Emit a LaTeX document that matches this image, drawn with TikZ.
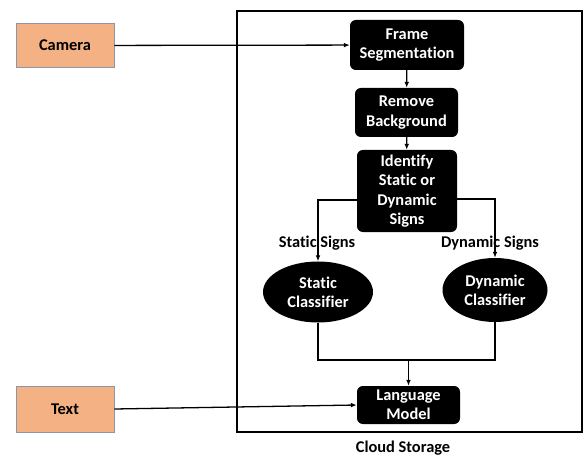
\documentclass[tikz,border=0pt]{standalone}
\usepackage{fontspec}
\setmainfont[Ligatures=NoCommon]{Carlito}
\usepackage{tikz}
\usetikzlibrary{shapes.geometric, arrows.meta, positioning}
\definecolor{sourceorange}{RGB}{244, 177, 131}
\definecolor{sourceedge}{RGB}{140, 150, 170}

\begin{document}
\begin{tikzpicture}[
    x=0.03cm, y=-0.03cm,
    font=\fontsize{14pt}{16.5pt}\selectfont\bfseries,
    proc/.style={rectangle, rounded corners=5pt, fill=black, text=white, align=center, inner sep=2pt},
    cls/.style={ellipse, fill=black, text=white, align=center, inner sep=0pt},
    src/.style={rectangle, fill=sourceorange, draw=sourceedge, line width=0.6pt, minimum width=2.94cm, minimum height=1.3cm},
    arr/.style={-{Latex[length=5pt,width=4pt]}, line width=1.1pt},
    link/.style={line width=1.1pt},
]
    \useasboundingbox (0,0) rectangle (587,456);

    % Cloud storage frame
    \draw[line width=1.3pt] (237,11) rectangle (582,432);
    \node (cloud) at (403,448) {Cloud Storage};

    % Sources
    \node[src] (camera) at (65,45.5) {Camera};
    \node[src, minimum height=1.38cm] (text) at (65,409) {Text};

    % Pipeline
    \node[proc, minimum width=3.42cm, minimum height=1.5cm] (frame) at (407,45) {Frame\\Segmentation};
    \node[proc, minimum width=3.09cm, minimum height=1.47cm] (remove) at (406.5,112.5) {Remove\\Background};
    \node[proc, minimum width=3.0cm, minimum height=2.46cm] (ident) at (407,191) {Identify\\Static or\\Dynamic\\Signs};
    \node[cls, minimum width=3.3cm, minimum height=1.83cm] (stat) at (318,292) {Static\\Classifier};
    \node[cls, minimum width=3.15cm, minimum height=1.92cm] (dyn) at (495,290) {Dynamic\\Classifier};
    \node[proc, minimum width=3.09cm, minimum height=1.14cm] (lang) at (408.5,405) {Language\\Model};

    % Branch labels
    \node (statlbl) at (317,243) {Static Signs};
    \node (dynlbl) at (490,243) {Dynamic Signs};

    % Connectors
    \draw[arr] (camera) -- (frame);
    \draw[arr] (frame) -- (remove);
    \draw[arr] (remove) -- (ident);
    \draw[arr] ([yshift=-9*0.03cm]ident.west) -| (stat.north);
    \draw[arr] ([yshift=-8*0.03cm]ident.east) -| (dyn.north);
    \coordinate (join) at (408.5,360);
    \draw[link] (stat.south) |- (join);
    \draw[link] (dyn.south) |- (join);
    \draw[arr] (join) -- (lang);
    \draw[arr] (text.east) -- (lang.west);
\end{tikzpicture}
\end{document}
